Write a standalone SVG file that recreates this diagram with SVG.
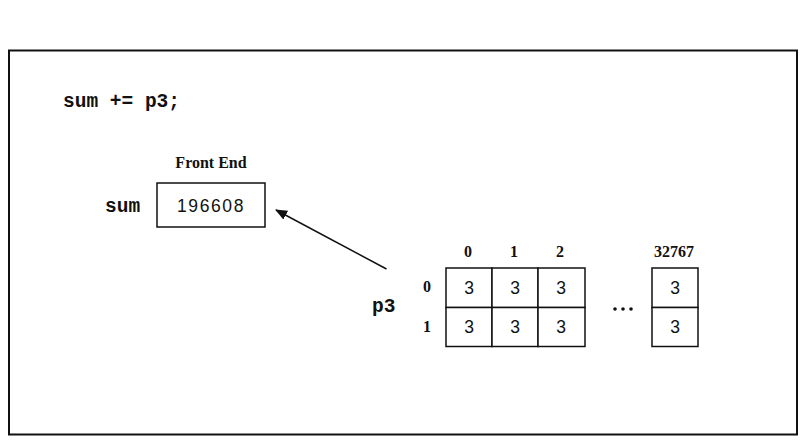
<svg xmlns="http://www.w3.org/2000/svg" width="802" height="446" viewBox="0 0 802 446">
<defs>
<style>
.code{font-family:"Liberation Mono","Courier New",monospace;font-weight:bold;font-size:19.5px;fill:#111}
.lbl{font-family:"Liberation Serif","Times New Roman",serif;font-weight:bold;font-size:16px;fill:#111}
.val{font-family:"Liberation Sans",Arial,sans-serif;font-size:17.5px;fill:#111;text-anchor:middle}
.box{fill:#fff;stroke:#111;stroke-width:1.5}
</style>
<marker id="ah" viewBox="0 0 12 10" refX="11" refY="5" markerWidth="12" markerHeight="10" markerUnits="userSpaceOnUse" orient="auto">
<path d="M0,0 L12,5 L0,10 Z" fill="#111"/>
</marker>
</defs>
<rect x="0" y="0" width="802" height="446" fill="#fff"/>
<rect x="9" y="50.5" width="788" height="384" fill="none" stroke="#111" stroke-width="2"/>
<text class="code" x="63" y="107">sum += p3;</text>
<g id="frontend">
<text class="lbl" x="211" y="168" text-anchor="middle" font-size="18">Front End</text>
<text class="code" x="105" y="212">sum</text>
<rect class="box" x="157" y="183" width="108" height="44"/>
<text class="val" x="211" y="212" font-size="19" letter-spacing="1.6">196608</text>
</g>
<g id="connectors">
<line x1="386.5" y1="269" x2="276" y2="210" stroke="#111" stroke-width="1.5" marker-end="url(#ah)"/>
</g>
<g id="p3">
<text class="code" x="372" y="312">p3</text>
<text class="lbl" x="468" y="257" text-anchor="middle">0</text>
<text class="lbl" x="514" y="257" text-anchor="middle">1</text>
<text class="lbl" x="560" y="257" text-anchor="middle">2</text>
<text class="lbl" x="674" y="257" text-anchor="middle">32767</text>
<text class="lbl" x="427" y="292" text-anchor="middle">0</text>
<text class="lbl" x="427" y="332" text-anchor="middle">1</text>
<rect class="box" x="446" y="268" width="46" height="39.5"/>
<rect class="box" x="492" y="268" width="46" height="39.5"/>
<rect class="box" x="538" y="268" width="47" height="39.5"/>
<rect class="box" x="446" y="307.5" width="46" height="39"/>
<rect class="box" x="492" y="307.5" width="46" height="39"/>
<rect class="box" x="538" y="307.5" width="47" height="39"/>
<rect class="box" x="652" y="268" width="46" height="39.5"/>
<rect class="box" x="652" y="307.5" width="46" height="39"/>
<text class="val" x="469" y="294">3</text>
<text class="val" x="515" y="294">3</text>
<text class="val" x="561" y="294">3</text>
<text class="val" x="675" y="294">3</text>
<text class="val" x="469" y="333">3</text>
<text class="val" x="515" y="333">3</text>
<text class="val" x="561" y="333">3</text>
<text class="val" x="675" y="333">3</text>
<circle cx="615" cy="309" r="1.8" fill="#111"/>
<circle cx="623" cy="309" r="1.8" fill="#111"/>
<circle cx="631" cy="309" r="1.8" fill="#111"/>
</g>
</svg>
